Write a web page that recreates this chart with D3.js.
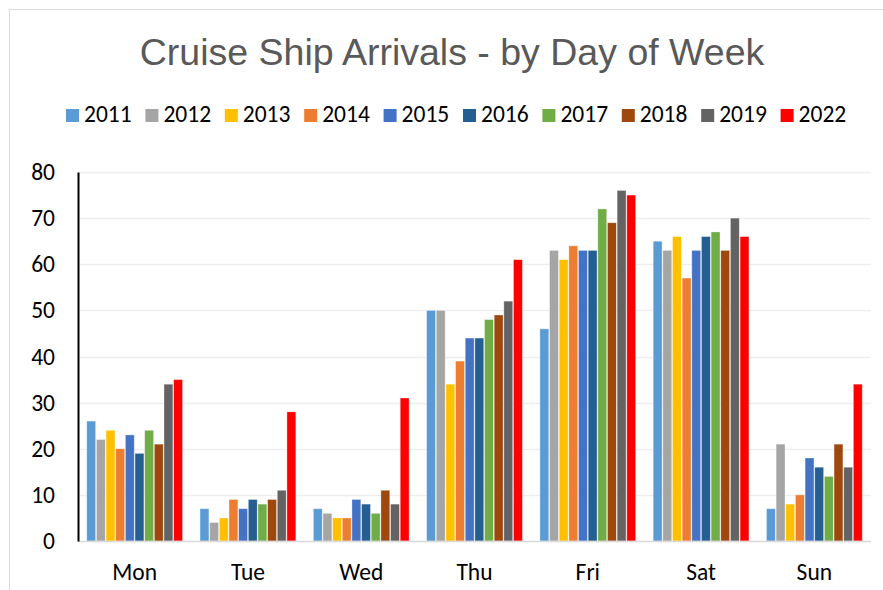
<!DOCTYPE html>
<html>
<head>
<meta charset="utf-8">
<script src="https://cdn.jsdelivr.net/npm/d3@7"></script>
<style>
html,body{margin:0;padding:0;background:#fff;}
svg{display:block;}
</style>
</head>
<body>
<svg id="chart" width="883" height="590"></svg>
<script>
const title = "Cruise Ship Arrivals - by Day of Week";
const days = ["Mon", "Tue", "Wed", "Thu", "Fri", "Sat", "Sun"];
const years = ["2011", "2012", "2013", "2014", "2015", "2016", "2017", "2018", "2019", "2022"];
const colors = ["#5B9BD5", "#A5A5A5", "#FFC000", "#ED7D31", "#4472C4", "#255E91", "#70AD47", "#9E480E", "#636363", "#FF0000"];
const yTicks = [0, 10, 20, 30, 40, 50, 60, 70, 80];
// values per year, in day order Mon..Sun
const v2011 = [26, 7, 7, 50, 46, 65, 7];
const v2012 = [22, 4, 6, 50, 63, 63, 21];
const v2013 = [24, 5, 5, 34, 61, 66, 8];
const v2014 = [20, 9, 5, 39, 64, 57, 10];
const v2015 = [23, 7, 9, 44, 63, 63, 18];
const v2016 = [19, 9, 8, 44, 63, 66, 16];
const v2017 = [24, 8, 6, 48, 72, 67, 14];
const v2018 = [21, 9, 11, 49, 69, 63, 21];
const v2019 = [34, 11, 8, 52, 76, 70, 16];
const v2022 = [35, 28, 31, 61, 75, 66, 34];
const series = [v2011, v2012, v2013, v2014, v2015, v2016, v2017, v2018, v2019, v2022];

const svg = d3.select("#chart");
const font = "Carlito, Calibri, Lato, sans-serif";
const fs = 23.5;

// chart border
svg.append("rect").attr("x", 9.5).attr("y", 9.5).attr("width", 900).attr("height", 620)
  .attr("fill", "#fff").attr("stroke", "#d9d9d9").attr("stroke-width", 1);

const plot = {left: 78, right: 871, top: 172, bottom: 541};

const x0 = d3.scaleBand().domain(days).range([plot.left, plot.right]).paddingInner(0.141).paddingOuter(0.0705);
const x1 = d3.scaleBand().domain(years).range([0, x0.bandwidth()]).padding(0.08);
const y = d3.scaleLinear().domain([0, 80]).range([plot.bottom, plot.top]);

// gridlines
svg.append("g").selectAll("line").data(yTicks.filter(t => t > 0)).join("line")
  .attr("x1", plot.left).attr("x2", plot.right)
  .attr("y1", d => Math.round(y(d)) + 0.5).attr("y2", d => Math.round(y(d)) + 0.5)
  .attr("stroke", "#eeeeee").attr("stroke-width", 1.5);

// bars
const rows = [];
days.forEach((d, i) => years.forEach((yr, j) => rows.push({day: d, year: yr, value: series[j][i], color: colors[j]})));
svg.append("g").selectAll("rect").data(rows).join("rect")
  .attr("x", d => x0(d.day) + x1(d.year))
  .attr("y", d => y(d.value))
  .attr("width", x1.bandwidth())
  .attr("height", d => y(0) - y(d.value))
  .attr("fill", d => d.color)
  .attr("stroke", "#ffffff").attr("stroke-opacity", 0.45).attr("stroke-width", 0.75);

// x axis line
svg.append("line").attr("x1", plot.left).attr("x2", plot.right)
  .attr("y1", plot.bottom + 0.5).attr("y2", plot.bottom + 0.5)
  .attr("stroke", "#d9d9d9").attr("stroke-width", 1.5);

// y axis
const yAxis = d3.axisLeft(y).tickValues(yTicks).tickSize(0).tickPadding(23);
const gy = svg.append("g").attr("transform", `translate(${plot.left},0)`).call(yAxis);
gy.select(".domain").attr("stroke", "#000").attr("stroke-width", 2);
gy.selectAll("text").attr("font-family", font).attr("font-size", fs).attr("fill", "#000");

// x axis labels
const xAxis = d3.axisBottom(x0).tickSize(0).tickPadding(22);
const gx = svg.append("g").attr("transform", `translate(0,${plot.bottom})`).call(xAxis);
gx.select(".domain").remove();
gx.selectAll("text").attr("font-family", font).attr("font-size", fs).attr("fill", "#000");

// title
svg.append("text").attr("x", 452).attr("y", 65).attr("text-anchor", "middle")
  .attr("font-family", "Liberation Sans, Arial, sans-serif").attr("font-size", 37.5)
  .attr("fill", "#595959").text(title);

// legend
const legendStart = 66, legendStep = 79.4;
const lg = svg.append("g").selectAll("g").data(years).join("g")
  .attr("transform", (d, i) => `translate(${legendStart + i * legendStep},109)`);
lg.append("rect").attr("width", 13).attr("height", 13).attr("fill", (d, i) => colors[i]);
lg.append("text").attr("x", 18).attr("y", 12.5).attr("font-family", font).attr("font-size", fs)
  .attr("fill", "#000").text(d => d);
</script>
</body>
</html>
